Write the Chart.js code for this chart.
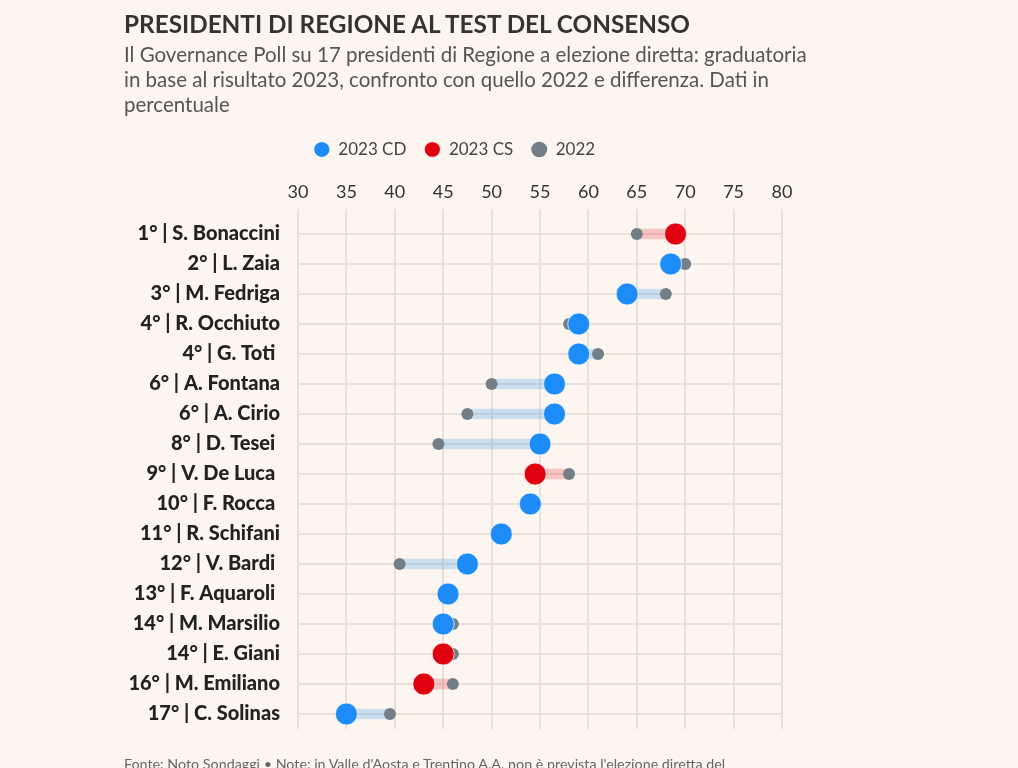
<!DOCTYPE html>
<html>
<head>
<meta charset="utf-8">
<script src="https://cdn.jsdelivr.net/npm/chart.js@4/dist/chart.umd.min.js"></script>
<style>
  html, body { margin: 0; padding: 0; background: #fdf6f0; }
  body { width: 1018px; height: 768px; position: relative; overflow: hidden; font-family: Lato, "Open Sans", sans-serif; }
  #title { position: absolute; left: 124px; top: 9px; font-size: 24.3px; line-height: 30px; font-weight: 700; color: #333; }
  #subtitle { position: absolute; left: 124px; top: 42px; font-size: 20.5px; line-height: 25px; color: #555; white-space: nowrap; }
  #footer { position: absolute; left: 124px; top: 754px; font-size: 14.3px; line-height: 20px; color: #666; white-space: nowrap; }
  #wrap { position: absolute; left: 0; top: 0; width: 1018px; height: 768px; }
</style>
</head>
<body>
<div id="wrap"><canvas id="c" width="1018" height="768"></canvas></div>
<div id="title">PRESIDENTI DI REGIONE AL TEST DEL CONSENSO</div>
<div id="subtitle">Il Governance Poll su 17 presidenti di Regione a elezione diretta: graduatoria<br>in base al risultato 2023, confronto con quello 2022 e differenza. Dati in<br>percentuale</div>
<div id="footer">Fonte: Noto Sondaggi • Note: in Valle d'Aosta e Trentino A.A. non è prevista l'elezione diretta del</div>
<script>
// ---- data ----
const presidents = [
  "1° | S. Bonaccini", "2° | L. Zaia", "3° | M. Fedriga", "4° | R. Occhiuto", "4° | G. Toti ",
  "6° | A. Fontana", "6° | A. Cirio", "8° | D. Tesei ", "9° | V. De Luca ", "10° | F. Rocca ",
  "11° | R. Schifani", "12° | V. Bardi ", "13° | F. Aquaroli ", "14° | M. Marsilio", "14° | E. Giani",
  "16° | M. Emiliano", "17° | C. Solinas"
];
const coalition = ["CS","CD","CD","CD","CD","CD","CD","CD","CS","CD","CD","CD","CD","CD","CS","CS","CD"];
const result2023 = [69.0, 68.5, 64.0, 59.0, 59.0, 56.5, 56.5, 55.0, 54.5, 54.0, 51.0, 47.5, 45.5, 45.0, 45.0, 43.0, 35.0];
const result2022 = [65.0, 70.0, 68.0, 58.0, 61.0, 50.0, 47.5, 44.5, 58.0, null, null, 40.5, 45.0, 46.0, 46.0, 46.0, 39.5];
const xTicks = [30, 35, 40, 45, 50, 55, 60, 65, 70, 75, 80];

// ---- derived ----
const cdValues = result2023.map((v, i) => coalition[i] === "CD" ? v : null);
const csValues = result2023.map((v, i) => coalition[i] === "CS" ? v : null);
const ranges = result2023.map((v, i) => result2022[i] == null ? null : [result2022[i], v]);
const rangeColors = coalition.map(c => c === "CD" ? "rgba(30,140,240,0.22)" : "rgba(230,20,30,0.22)");

const BLUE = "#1d8cf8", RED = "#e0000f", GRAY = "#737f87", GRID = "#e8e0d9";

Chart.defaults.font.family = "Lato, 'Open Sans', sans-serif";

new Chart(document.getElementById("c"), {
  type: "bar",
  data: {
    labels: presidents,
    datasets: [
      { type: "bar", label: "diff", data: ranges, backgroundColor: rangeColors, barThickness: 10,
        borderWidth: 0, order: 3, indexAxis: "y" },
      { type: "line", label: "2023 CD", data: cdValues, showLine: false, indexAxis: "y",
        pointRadius: 11, pointStyle: "circle", backgroundColor: BLUE, borderColor: "rgba(255,255,255,0.7)",
        pointBorderWidth: 1, borderWidth: 1, order: 0 },
      { type: "line", label: "2023 CS", data: csValues, showLine: false, indexAxis: "y",
        pointRadius: 11, pointStyle: "circle", backgroundColor: RED, borderColor: "rgba(255,255,255,0.7)",
        pointBorderWidth: 1, borderWidth: 1, order: 0 },
      { type: "line", label: "2022", data: result2022, showLine: false, indexAxis: "y",
        pointRadius: 6, pointStyle: "circle", backgroundColor: GRAY, borderColor: GRAY,
        pointBorderWidth: 0, borderWidth: 0, order: 1 }
    ]
  },
  options: {
    indexAxis: "y",
    responsive: false,
    animation: false,
    layout: { padding: { left: 127, right: 236, top: 123, bottom: 39 } },
    plugins: {
      tooltip: { enabled: false },
      legend: {
        position: "top",
        align: "center",
        labels: {
          usePointStyle: true,
          pointStyleWidth: 16,
          boxHeight: 11,
          padding: 18,
          color: "#444",
          font: { size: 17 },
          filter: (item) => item.datasetIndex !== 0,
          sort: (a, b) => a.datasetIndex - b.datasetIndex
        }
      }
    },
    scales: {
      x: {
        type: "linear",
        position: "top",
        min: 30, max: 80,
        afterBuildTicks: (s) => { s.ticks = xTicks.map(v => ({ value: v })); },
        ticks: { color: "#333", font: { size: 18 }, padding: 6 },
        grid: { color: GRID, lineWidth: 2, tickLength: 10, drawTicks: true, tickColor: GRID },
        border: { display: false },
        afterFit: (s) => { s.height = 51; }
      },
      y: {
        type: "category",
        offset: true,
        ticks: { color: "#222", font: { size: 20, weight: 900 }, padding: 18 },
        grid: { color: GRID, lineWidth: 2, drawTicks: false, offset: false },
        border: { display: false },
        afterFit: (s) => { s.width = 171; }
      }
    }
  }
});
</script>
</body>
</html>
